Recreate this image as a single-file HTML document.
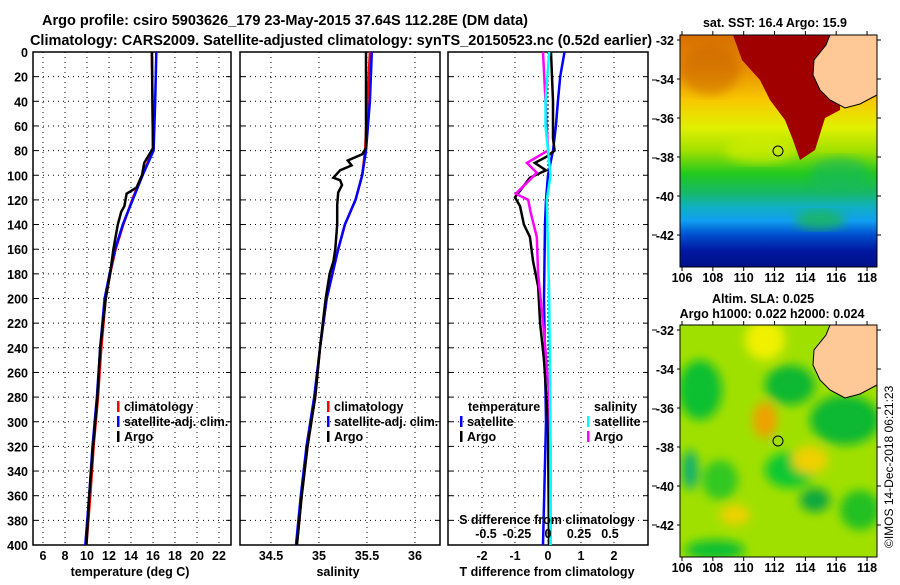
<!DOCTYPE html>
<html><head><meta charset="utf-8"><style>
body{margin:0;background:#fff}
svg text{font-family:"Liberation Sans",sans-serif;font-weight:bold;fill:#000}
</style></head><body>
<svg id="fig" width="900" height="580" viewBox="0 0 900 580" xmlns="http://www.w3.org/2000/svg">
<text x="285" y="25" font-size="14.5" text-anchor="middle">Argo profile: csiro 5903626_179 23-May-2015 37.64S 112.28E (DM data)</text>
<text x="341" y="45" font-size="14.5" text-anchor="middle">Climatology: CARS2009. Satellite-adjusted climatology: synTS_20150523.nc (0.52d earlier)</text>

<g id="maps">
<text x="775" y="27" font-size="12.5" text-anchor="middle">sat. SST: 16.4 Argo: 15.9</text>
<defs>
<linearGradient id="sstg" x1="0" y1="0" x2="0" y2="1">
<stop offset="0" stop-color="#d87000"/><stop offset="0.15" stop-color="#e89000"/><stop offset="0.28" stop-color="#f8c800"/><stop offset="0.4" stop-color="#e0f000"/><stop offset="0.5" stop-color="#a0e000"/><stop offset="0.6" stop-color="#20c820"/><stop offset="0.68" stop-color="#18b868"/><stop offset="0.74" stop-color="#10b0c0"/><stop offset="0.8" stop-color="#10a0f0"/><stop offset="0.86" stop-color="#0050d0"/><stop offset="0.93" stop-color="#0018a0"/><stop offset="1" stop-color="#000f88"/>
</linearGradient>
<filter id="bl"><feGaussianBlur stdDeviation="5"/></filter>
<clipPath id="c1"><rect x="680" y="35" width="197" height="232"/></clipPath>
<clipPath id="c2"><rect x="680" y="325" width="197" height="232"/></clipPath>
</defs>
<g clip-path="url(#c1)">
<rect x="680" y="35" width="197" height="232" fill="url(#sstg)"/>
<ellipse cx="710" cy="70" rx="30" ry="25" fill="#c86000" opacity="0.5" filter="url(#bl)"/>
<ellipse cx="760" cy="150" rx="35" ry="14" fill="#d8f000" opacity="0.6" filter="url(#bl)"/>
<path d="M733,35 L840,35 L840,110 L825,118 L815,150 L800,160 L793,140 L785,120 L770,100 L760,80 L742,60 Z" fill="#a00000"/>
<path d="M830,35 L877,35 L877,95 L860,104 L845,108 L830,100 L820,90 L813,75 L814,60 L826,45 Z" fill="#ffc896" stroke="#000" stroke-width="1"/>
<ellipse cx="840" cy="175" rx="30" ry="18" fill="#18b860" opacity="0.6" filter="url(#bl)"/>
<ellipse cx="820" cy="220" rx="25" ry="10" fill="#20c020" opacity="0.6" filter="url(#bl)"/>
</g>
<rect x="680" y="35" width="197" height="232" fill="none" stroke="#000"/>
<circle cx="778" cy="151" r="5" fill="none" stroke="#000"/>
<text x="763" y="303" font-size="12.5" text-anchor="middle">Altim. SLA: 0.025</text>
<text x="772" y="318" font-size="12.5" text-anchor="middle">Argo h1000: 0.022 h2000: 0.024</text>
<g clip-path="url(#c2)">
<rect x="680" y="325" width="197" height="232" fill="#a0e000"/>
<g filter="url(#bl)">
<ellipse cx="700" cy="390" rx="22" ry="30" fill="#10c030"/>
<ellipse cx="765" cy="340" rx="20" ry="20" fill="#f0f000"/>
<ellipse cx="765" cy="420" rx="12" ry="18" fill="#f0a000"/>
<ellipse cx="790" cy="385" rx="25" ry="20" fill="#10b830"/>
<ellipse cx="845" cy="420" rx="35" ry="25" fill="#10b830"/>
<ellipse cx="790" cy="470" rx="25" ry="18" fill="#10c830"/>
<ellipse cx="815" cy="500" rx="15" ry="12" fill="#10a840"/>
<ellipse cx="810" cy="460" rx="18" ry="14" fill="#f0d000"/>
<ellipse cx="720" cy="480" rx="18" ry="20" fill="#30c820"/>
<ellipse cx="715" cy="550" rx="30" ry="10" fill="#10c030"/>
<ellipse cx="735" cy="515" rx="15" ry="10" fill="#f0d000"/>
<ellipse cx="860" cy="510" rx="20" ry="20" fill="#20c020"/>
<ellipse cx="690" cy="470" rx="8" ry="20" fill="#10b070"/>
</g>
<path d="M830,325 L877,325 L877,385 L860,394 L845,398 L830,390 L820,380 L813,365 L814,350 L826,335 Z" fill="#ffc896" stroke="#000" stroke-width="1"/>
</g>
<rect x="680" y="325" width="197" height="232" fill="none" stroke="#000"/>
<circle cx="778" cy="441" r="5" fill="none" stroke="#000"/>
<text transform="translate(893,548) rotate(-90)" font-size="12" style="font-weight:normal">©IMOS 14-Dec-2018 06:21:23</text>
</g>
<g id="mapaxes"></g>
<g id="panels"></g>
</svg>
<script>
// ---- data ----
const depthClim=[0,80,100,120,140,160,180,200,240,280,320,360,400];
const tempClim=[15.9,16.0,15.0,14.1,13.3,12.6,12.1,11.7,11.3,11.0,10.6,10.3,9.95];
const depthSatT=[0,40,80,100,120,140,160,180,200,240,280,320,360,400];
const tempSat=[16.3,16.2,16.05,15.05,14.15,13.25,12.55,12.05,11.6,11.2,10.9,10.5,10.2,9.85];
const depthArgo=[0,78,90,100,110,115,125,130,140,160,180,200,240,280,320,360,400];
const tempArgo=[15.9,16.0,15.2,15.0,14.5,13.6,13.4,13.1,12.8,12.4,12.1,11.7,11.2,10.95,10.55,10.2,9.95];
const salClim=[35.53,35.48,35.45,35.38,35.27,35.2,35.14,35.08,35.01,34.96,34.88,34.82,34.77];
const salSat=[35.55,35.53,35.49,35.45,35.38,35.27,35.2,35.14,35.08,35.01,34.95,34.87,34.81,34.76];
const depthArgoS=[0,78,83,88,92,96,102,104,108,114,124,140,160,170,180,200,220,240,280,320,360,400];
const salArgo=[35.49,35.49,35.45,35.30,35.34,35.22,35.15,35.22,35.24,35.2,35.19,35.19,35.17,35.15,35.11,35.07,35.04,35.01,34.96,34.88,34.82,34.77];
const depthDT=[0,20,40,60,80,100,120,140,200,300,400];
const dTsat=[0.5,0.37,0.3,0.24,0.15,0,-0.06,-0.09,-0.12,-0.06,-0.15];
const depthDTa=[0,40,70,80,85,90,96,102,118,125,140,150,170,190,220,250,300,400];
const dTargo=[0.09,0.15,0.15,0.2,-0.05,-0.4,-0.06,-0.55,-1.0,-0.85,-0.73,-0.55,-0.45,-0.3,-0.24,-0.12,0,0.03];
const depthDSa=[0,80,90,98,104,115,120,130,150,180,200,230,280,320,400];
const dSargo=[-0.04,0,-0.17,-0.09,-0.15,-0.26,-0.16,-0.14,-0.09,-0.08,-0.06,-0.03,0.01,0.02,0.02];
const depthDSs=[0,40,60,80,100,120,200,300,400];
const dSsat=[0.01,-0.02,-0.02,0,0.02,-0.01,0.01,0.02,0.02];
const depthTicks=[0,20,40,60,80,100,120,140,160,180,200,220,240,260,280,300,320,340,360,380,400];
const tempTicks=[6,8,10,12,14,16,18,20,22];
const salTicks=[34.5,35,35.5,36];
const dTTicks=[-2,-1,0,1,2];
const dSTicks=[-0.5,-0.25,0,0.25,0.5];
const dSTickLabels=["-0.5","-0.25","0","0.25","0.5"];
const lonTicks=[106,108,110,112,114,116,118];
const latTicks=[-32,-34,-36,-38,-40,-42];

const NS='http://www.w3.org/2000/svg';
const P=document.getElementById('panels');
function mk(tag,at,parent){const e=document.createElementNS(NS,tag);for(const k in at)e.setAttribute(k,at[k]);(parent||P).appendChild(e);return e;}
const yD=d=>52+d*1.2325;
const xT=t=>43+(t-6)*11;
const xS=s=>319+(s-35)*96;
const xDT=t=>548+t*33;
const xDS=s=>548+s*124;

function frame(x0,x1,name){
  const g=mk('g',{});
  
  
  depthTicks.forEach(d=>{
    const l=mk('line',{x1:x0,x2:x1,y1:yD(d),y2:yD(d),stroke:'#000','stroke-dasharray':'1,4'},g);
    
    
    mk('line',{x1:x0,x2:x0+5,y1:yD(d),y2:yD(d),stroke:'#000'},g);
    mk('line',{x1:x1-5,x2:x1,y1:yD(d),y2:yD(d),stroke:'#000'},g);
  });
  const r=mk('rect',{x:x0,y:52,width:x1-x0,height:493,fill:'none',stroke:'#000','stroke-width':1.5},g);
  
  
  return g;
}
function vgrid(g,xs){xs.forEach(x=>{const l=mk('line',{x1:x,x2:x,y1:52,y2:545,stroke:'#000','stroke-dasharray':'1,4'},g);
  
  });}
function line(xs,ds,fx,col,name){
  const pts=xs.map((v,i)=>fx(v).toFixed(1)+','+yD(ds[i]).toFixed(1)).join(' ');
  const p=mk('polyline',{points:pts,fill:'none',stroke:col,'stroke-width':2.5});
  
  
}
function txt(x,y,s,sz,anchor,name){const t=mk('text',{x:x,y:y,'font-size':sz,'text-anchor':anchor||'middle'});t.textContent=s;
  
  return t;}
function legend(x,y,items){items.forEach((it,i)=>{
  const r=mk('rect',{x:x,y:y+i*15-10,width:2.5,height:11,fill:it[1]});
  
  
  txt(x+7,y+i*15,it[0],12.5,'start','legend-entry');});}

// panel 1 temperature
const g1=frame(33,231,'temperature-panel');
vgrid(g1,tempTicks.map(xT));
line(tempClim,depthClim,xT,'#f00','climatology-temperature-line');
line(tempSat,depthSatT,xT,'#00f','satellite-temperature-line');
line(tempArgo,depthArgo,xT,'#000','argo-temperature-line');
depthTicks.forEach(d=>txt(28,yD(d)+5,String(d),12.5,'end','depth-tick-label'));
tempTicks.forEach(t=>txt(xT(t),560,String(t),12.5,'middle','temperature-tick-label'));
txt(130,576,'temperature (deg C)',12.5,'middle','temperature-axis-title');
legend(117,411,[['climatology','#f00'],['satellite-adj. clim.','#00f'],['Argo','#000']]);

// panel 2 salinity
const g2=frame(240,440,'salinity-panel');
vgrid(g2,salTicks.map(xS));
line(salClim,depthClim,xS,'#f00','climatology-salinity-line');
line(salSat,depthSatT,xS,'#00f','satellite-salinity-line');
line(salArgo,depthArgoS,xS,'#000','argo-salinity-line');
salTicks.forEach(s=>txt(xS(s),560,String(s),12.5,'middle','salinity-tick-label'));
txt(338,576,'salinity',12.5,'middle','salinity-axis-title');
legend(327,411,[['climatology','#f00'],['satellite-adj. clim.','#00f'],['Argo','#000']]);

// panel 3 differences
const g3=frame(448,648,'difference-panel');
vgrid(g3,dTTicks.filter(t=>t!==0).map(xDT));
mk('line',{x1:548,x2:548,y1:52,y2:545,stroke:'#000','stroke-dasharray':'2,2'},g3);
[80,119,158,235,330,409,486,525].forEach(y=>mk('line',{x1:652,x2:657,y1:y,y2:y,stroke:'#000'}));
line(dTsat,depthDT,xDT,'#00f','satellite-temperature-difference-line');
line(dTargo,depthDTa,xDT,'#000','argo-temperature-difference-line');
line(dSargo,depthDSa,xDS,'#f0f','argo-salinity-difference-line');
line(dSsat,depthDSs,xDS,'#0ff','satellite-salinity-difference-line');
dTTicks.forEach(t=>txt(xDT(t),560,String(t),12.5,'middle','temperature-difference-tick-label'));
dSTicks.forEach((s,i)=>txt(xDS(s),538,dSTickLabels[i],12.5,'middle','salinity-difference-tick-label'));
txt(547,524,'S difference from climatology',12.5,'middle','salinity-difference-axis-title');
txt(547,576,'T difference from climatology',12.5,'middle','temperature-difference-axis-title');
txt(468,411,'temperature',12.5,'start','legend-title-temperature');
legend(460,426,[['satellite','#00f'],['Argo','#000']]);
txt(594,411,'salinity',12.5,'start','legend-title-salinity');
legend(587,426,[['satellite','#0ff'],['Argo','#f0f']]);

// map axes
const M=document.getElementById('mapaxes');
const xLon=l=>682+(l-106)*15.42;
[[40,235,35,267],[330,525,325,557]].forEach(([y32,y42,top,bot])=>{
  const yLat=l=>y32+(-32-l)*(y42-y32)/10;
  lonTicks.forEach(l=>{mk('line',{x1:xLon(l),x2:xLon(l),y1:top,y2:top-4,stroke:'#000'},M);mk('line',{x1:xLon(l),x2:xLon(l),y1:bot,y2:bot+4,stroke:'#000'},M);
    const t=mk('text',{x:xLon(l),y:bot+15,'font-size':12.5,'text-anchor':'middle'},M);t.textContent=String(l);
    
    });
  latTicks.forEach(l=>{mk('line',{x1:677,x2:680,y1:yLat(l),y2:yLat(l),stroke:'#000'},M);mk('line',{x1:877,x2:881,y1:yLat(l),y2:yLat(l),stroke:'#000'},M);
    const t=mk('text',{x:674,y:yLat(l)+5,'font-size':12.5,'text-anchor':'end'},M);t.textContent=String(l);
    
    });
});
</script>
</body></html>
